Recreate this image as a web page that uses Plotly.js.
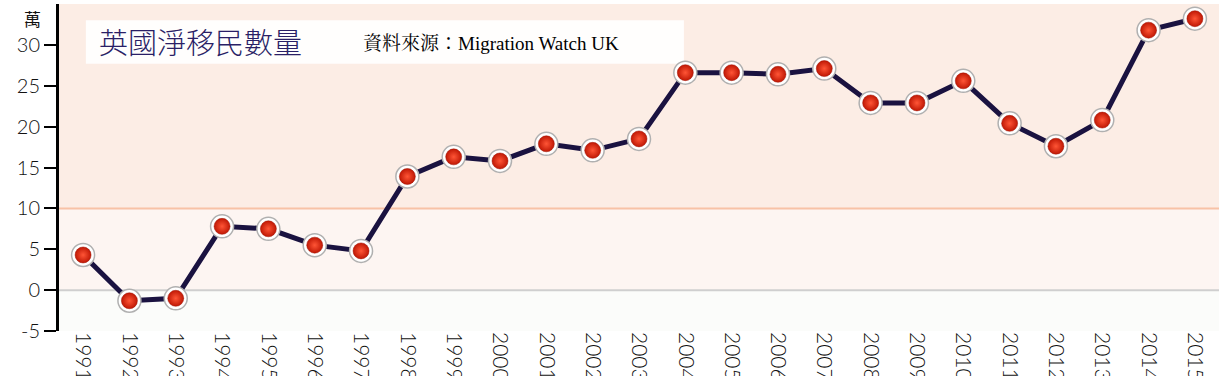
<!DOCTYPE html>
<html><head><meta charset="utf-8">
<script src="https://cdn.plot.ly/plotly-3.0.1.min.js"></script>
<style>html,body{margin:0;padding:0;background:#fff}#chart{width:1219px;height:376px}</style>
</head><body><div id="chart"></div>
<script>
const years = [1991,1992,1993,1994,1995,1996,1997,1998,1999,2000,2001,2002,2003,2004,2005,2006,2007,2008,2009,2010,2011,2012,2013,2014,2015];
const netMigration = [4.3,-1.3,-1.0,7.8,7.5,5.5,4.8,13.9,16.3,15.8,17.9,17.1,18.5,26.6,26.6,26.4,27.1,22.9,22.9,25.6,20.4,17.6,20.8,31.8,33.2];
const yTicks = [-5,0,5,10,15,20,25,30];
const yTickLabels = ['-5','0','5','10','15','20','25','30'];
const titleText = '英國淨移民數量';
const sourceText = '資料來源：Migration Watch UK';
const unitText = '萬';

const tickFont = {family:'Lato, "Noto Sans", sans-serif', size:20, color:'#111', weight:300};

const traces = [
  {x:years, y:netMigration, type:'scatter', mode:'lines', line:{color:'#1a1240', width:5}, hoverinfo:'skip'},
  {x:years, y:netMigration, type:'scatter', mode:'markers', marker:{size:23, color:'#ffffff', line:{color:'#b0b0b0', width:1.5}}, hoverinfo:'skip'},
  {x:years, y:netMigration, type:'scatter', mode:'markers', marker:{size:16, color:'#c01805', gradient:{type:'radial', color:'#ff5536'}, line:{color:'#a01000', width:0.5}}}
];

const layout = {
  width:1219, height:376,
  margin:{l:59, r:0, t:4, b:45},
  paper_bgcolor:'#ffffff', plot_bgcolor:'rgba(0,0,0,0)',
  showlegend:false,
  xaxis:{range:[1990.48, 2015.52], tickvals:years, ticktext:years.map(String), tickangle:90,
         showgrid:false, zeroline:false, showline:false, ticks:'', automargin:false,
         tickfont:{family:'Lato, "Noto Sans", sans-serif', size:21, color:'#111', weight:300}},
  yaxis:{range:[-5,35], tickvals:yTicks, ticktext:yTickLabels, showgrid:false, zeroline:false, showline:true, linecolor:'#000', linewidth:3,
         ticks:'outside', ticklen:12, tickwidth:2, tickcolor:'#000', automargin:false, tickfont:tickFont},
  shapes:[
    {type:'rect', xref:'paper', yref:'y', x0:0, x1:1, y0:10, y1:35, fillcolor:'#fcede5', line:{width:0}, layer:'below'},
    {type:'rect', xref:'paper', yref:'y', x0:0, x1:1, y0:0, y1:10, fillcolor:'#fdf5f2', line:{width:0}, layer:'below'},
    {type:'rect', xref:'paper', yref:'y', x0:0, x1:1, y0:-5, y1:0, fillcolor:'#fbfcfa', line:{width:0}, layer:'below'},
    {type:'line', xref:'paper', yref:'y', x0:0, x1:1, y0:10, y1:10, line:{color:'#f8c2a6', width:2}, layer:'below'},
    {type:'line', xref:'paper', yref:'y', x0:0, x1:1, y0:0, y1:0, line:{color:'#cfcfcf', width:2}, layer:'below'},
    {type:'rect', xref:'x', yref:'y', x0:1991.06, x1:2003.97, y0:27.7, y1:33.0, fillcolor:'#ffffff', line:{width:0}, layer:'below', opacity:0.9}
  ],
  annotations:[
    {xref:'x', yref:'y', x:1991.3, y:30.5, xanchor:'left', yanchor:'middle', text:titleText, showarrow:false,
     font:{family:'"Noto Sans CJK TC", sans-serif', size:29, color:'#2a1f66', weight:300}},
    {xref:'x', yref:'y', x:1997.0, y:30.2, xanchor:'left', yanchor:'middle', text:sourceText, showarrow:false,
     font:{family:'"Liberation Serif", "Noto Serif CJK TC", serif', size:19, color:'#000'}},
    {xref:'paper', yref:'paper', x:-0.0225, y:1.0, xanchor:'center', yanchor:'top', text:unitText, showarrow:false,
     font:{family:'"Noto Sans CJK TC", sans-serif', size:17, color:'#111'}}
  ]
};

Plotly.newPlot('chart', traces, layout, {staticPlot:true, displayModeBar:false});
</script>
</body></html>
